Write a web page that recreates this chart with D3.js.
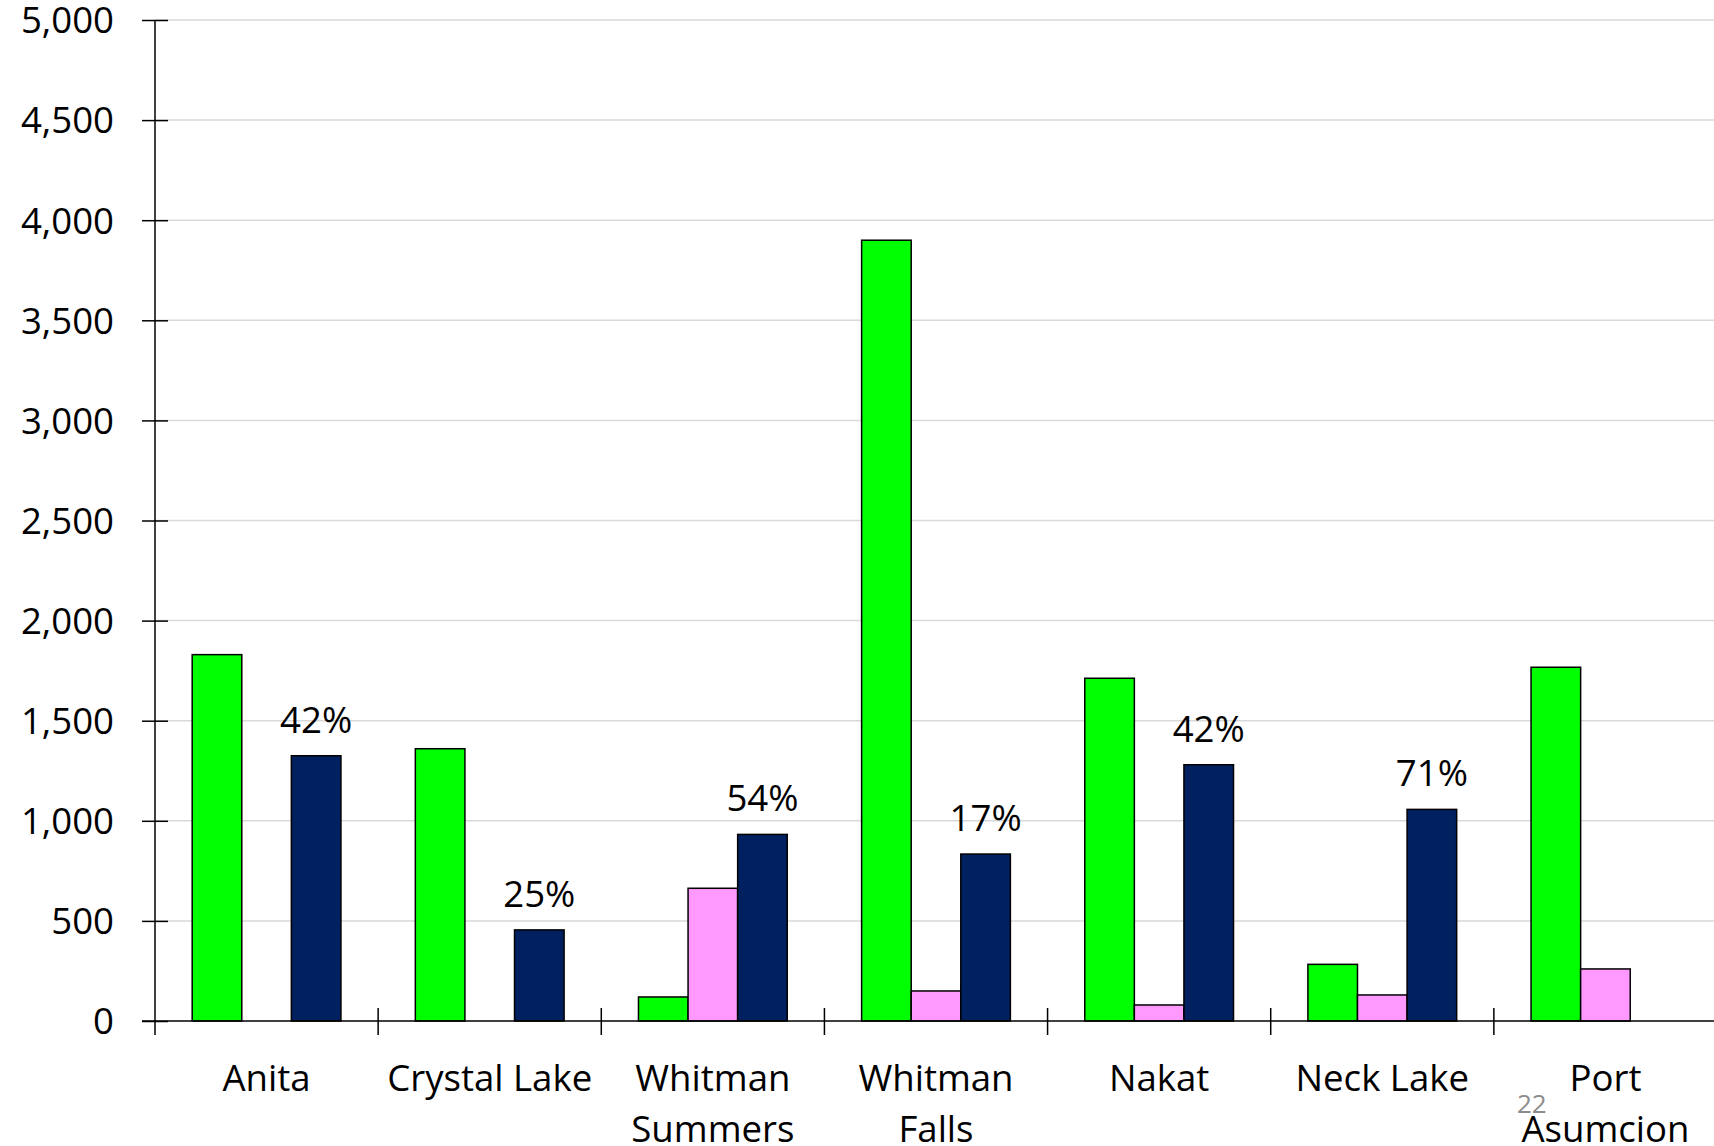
<!DOCTYPE html>
<html>
<head>
<meta charset="utf-8">
<script src="https://cdn.jsdelivr.net/npm/d3@7"></script>
<style>
  html, body { margin: 0; padding: 0; background: #ffffff; }
  svg { display: block; }
</style>
</head>
<body>
<svg id="chart" width="1714" height="1146"></svg>
<script>
// ---- data ----
const categories = ["Anita", "Crystal Lake", "Whitman Summers", "Whitman Falls", "Nakat", "Neck Lake", "Port Asumcion"];
const categoryLines = [["Anita"], ["Crystal Lake"], ["Whitman", "Summers"], ["Whitman", "Falls"], ["Nakat"], ["Neck Lake"], ["Port", "Asumcion"]];
const seriesNames = ["green", "pink", "navy"];
const greenValues = [1830, 1360, 120, 3900, 1712, 283, 1767];
const pinkValues  = [null, null, 663, 150, 80, 130, 260];
const navyValues  = [1325, 455, 932, 834, 1280, 1057, null];
const percentLabels = ["42%", "25%", "54%", "17%", "42%", "71%", ""];
const yTicks = [0, 500, 1000, 1500, 2000, 2500, 3000, 3500, 4000, 4500, 5000];
const slideNumber = "22";

const colors = { green: "#00ff00", pink: "#ff99ff", navy: "#002060" };
const font = "'Open Sans', 'Noto Sans', sans-serif";
const fontSize = 36.6;

// ---- layout ----
const svg = d3.select("#chart");
const x0Left = 155, x0Right = 1717;
const yTop = 20, yBottom = 1021;

const x = d3.scaleBand().domain(categories).range([x0Left, x0Right]).padding(0);
const xs = d3.scaleBand().domain(seriesNames).range([0, x.bandwidth()]).paddingInner(0).paddingOuter(0.75);
const y = d3.scaleLinear().domain([0, 5000]).range([yBottom, yTop]);

// gridlines
svg.append("g")
  .selectAll("line")
  .data(yTicks.filter(d => d > 0))
  .join("line")
  .attr("x1", x0Left).attr("x2", 1714)
  .attr("y1", d => y(d)).attr("y2", d => y(d))
  .attr("stroke", "#d9d9d9").attr("stroke-width", 1.5);

// bars
const rows = categories.map((c, i) => ({
  cat: c,
  vals: [
    { s: "green", v: greenValues[i] },
    { s: "pink", v: pinkValues[i] },
    { s: "navy", v: navyValues[i] }
  ].filter(d => d.v !== null)
}));

const groups = svg.append("g").selectAll("g")
  .data(rows).join("g")
  .attr("transform", d => `translate(${x(d.cat)},0)`);

groups.selectAll("rect")
  .data(d => d.vals).join("rect")
  .attr("x", d => xs(d.s))
  .attr("width", xs.bandwidth())
  .attr("y", d => y(d.v))
  .attr("height", d => y(0) - y(d.v))
  .attr("fill", d => colors[d.s])
  .attr("stroke", "#000").attr("stroke-width", 1.5);

// percent labels above navy bars
svg.append("g").selectAll("text")
  .data(categories.map((c, i) => ({ c, v: navyValues[i], t: percentLabels[i] })).filter(d => d.v !== null && d.t))
  .join("text")
  .attr("x", d => x(d.c) + xs("navy") + xs.bandwidth() / 2)
  .attr("y", d => y(d.v) - 23)
  .attr("text-anchor", "middle")
  .attr("font-family", font).attr("font-size", fontSize)
  .attr("fill", "#000")
  .text(d => d.t);

// y axis
const yAxis = d3.axisLeft(y).tickValues(yTicks).tickSize(0).tickFormat(d3.format(","));
const gy = svg.append("g").attr("transform", `translate(${x0Left},0)`).call(yAxis);
gy.select(".domain").remove();
gy.selectAll(".tick text")
  .attr("x", -41)
  .attr("dy", "0.35em")
  .attr("font-family", font).attr("font-size", fontSize).attr("fill", "#000");
gy.selectAll(".tick").append("line")
  .attr("x1", -13).attr("x2", 13).attr("stroke", "#000").attr("stroke-width", 1.5);
svg.append("line")
  .attr("x1", x0Left).attr("x2", x0Left).attr("y1", yTop).attr("y2", yBottom + 14)
  .attr("stroke", "#000").attr("stroke-width", 1.5);

// x axis
svg.append("line")
  .attr("x1", 142).attr("x2", 1714).attr("y1", yBottom).attr("y2", yBottom)
  .attr("stroke", "#000").attr("stroke-width", 1.5);
svg.append("g").selectAll("line")
  .data(categories.slice(1))
  .join("line")
  .attr("x1", d => x(d)).attr("x2", d => x(d))
  .attr("y1", yBottom - 13).attr("y2", yBottom + 14)
  .attr("stroke", "#000").attr("stroke-width", 1.5);

// category labels
const labels = svg.append("g").selectAll("text")
  .data(categories.map((c, i) => ({ c, lines: categoryLines[i] })))
  .join("text")
  .attr("text-anchor", "middle")
  .attr("font-family", font).attr("font-size", fontSize).attr("fill", "#000");
labels.selectAll("tspan")
  .data(d => d.lines.map((l, j) => ({ l, j, c: d.c })))
  .join("tspan")
  .attr("x", d => x(d.c) + x.bandwidth() / 2)
  .attr("y", d => 1091 + d.j * 51)
  .text(d => d.l);

// slide number
svg.append("text")
  .attr("x", 1517).attr("y", 1113)
  .attr("font-family", font).attr("font-size", 26)
  .attr("fill", "#8c8c8c")
  .text(slideNumber);
</script>
</body>
</html>
